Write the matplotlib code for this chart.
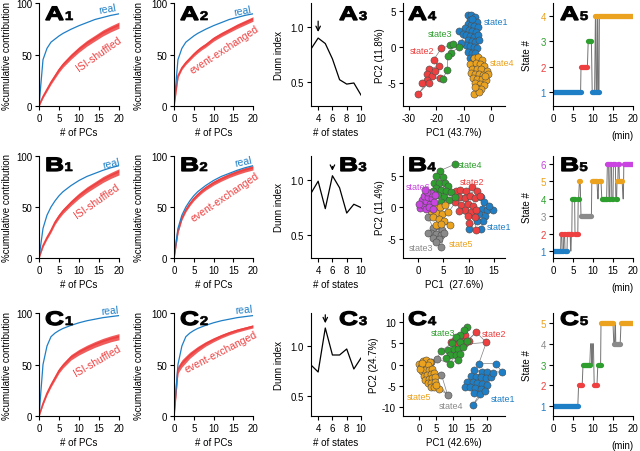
import numpy as np
import matplotlib
matplotlib.use('Agg')
import matplotlib.pyplot as plt
from matplotlib.textpath import TextPath
from matplotlib.patches import PathPatch
from matplotlib.font_manager import FontProperties
from matplotlib.transforms import Affine2D

plt.rcParams['font.family'] = ['Liberation Sans', 'DejaVu Sans']
plt.rcParams['font.size'] = 7
plt.rcParams['axes.unicode_minus'] = False

W, H = 640, 452

blue = '#1f7fc6'
red = '#ee4040'
green = '#2e9f2e'
orange = '#eba21e'
gray = '#8a8a8a'
magenta = '#c944e0'

# ---- cumulative contribution curves ----
pcs = [0, 1, 2, 3, 4, 5, 6, 7, 8, 10, 12, 14, 16, 18, 20]

real_A = [0, 45, 56, 62, 65, 68, 70.5, 72.5, 74.5, 78, 81, 84, 86, 88, 89.5]
isi_A = [0, 9, 16, 23, 29, 35, 40, 44, 48, 55, 61, 66, 71, 75, 78.5]
isi_A_sd = [0, 1.2, 1.6, 1.9, 2.1, 2.3, 2.4, 2.5, 2.6, 2.7, 2.8, 2.8, 2.9, 2.9, 3.0]
event_A = [0, 29, 37, 42, 46, 50, 53.5, 56.5, 59, 65, 69.5, 73.5, 77.5, 81, 84.5]
event_A_sd = [0, 1.5, 1.6, 1.7, 1.8, 1.9, 2.0, 2.0, 2.0, 2.1, 2.1, 2.1, 2.2, 2.2, 2.2]

real_B = [0, 29, 42, 50, 56, 61, 65, 68, 71, 76, 80, 83, 86, 88.5, 90.5]
isi_B = [0, 12, 20, 27, 35, 41, 46, 50, 54, 61, 67, 72, 77, 81, 84.5]
isi_B_sd = [0, 1.2, 1.6, 1.9, 2.1, 2.3, 2.4, 2.5, 2.6, 2.7, 2.8, 2.8, 2.9, 2.9, 3.0]
event_B = [0, 26, 39, 47, 53, 58, 62, 65.5, 68.5, 73.5, 77.5, 81, 84, 86.5, 88.5]
event_B_sd = [0, 1.5, 1.6, 1.7, 1.8, 1.9, 2.0, 2.0, 2.0, 2.1, 2.1, 2.1, 2.2, 2.2, 2.2]

real_C = [0, 50, 68, 77, 80.5, 83, 85, 86.5, 88, 90.5, 92.5, 94, 95.5, 96.5, 97.5]
isi_C = [0, 12, 22, 30, 37, 44, 49, 53, 57, 62, 66, 69.5, 72.5, 75, 77]
isi_C_sd = [0, 1.2, 1.6, 1.9, 2.1, 2.3, 2.4, 2.5, 2.6, 2.7, 2.8, 2.8, 2.9, 2.9, 3.0]
event_C = [0, 45, 51, 55, 59, 62, 65, 67.5, 70, 74, 77.5, 80.5, 83, 85, 87]
event_C_sd = [0, 3.5, 3.5, 3.3, 3.0, 2.8, 2.6, 2.4, 2.2, 2.0, 1.8, 1.7, 1.6, 1.5, 1.5]

# ---- Dunn index ----
n_states = [3, 4, 5, 6, 7, 8, 9, 10]
dunn_A = [0.80, 0.90, 0.85, 0.71, 0.52, 0.48, 0.49, 0.38]
dunn_B = [0.88, 0.99, 0.74, 1.04, 0.93, 0.70, 0.78, 0.75]
dunn_C = [0.81, 0.74, 1.18, 0.91, 0.91, 0.97, 0.77, 0.88]
best_A, best_B, best_C = 4, 6, 5

# ---- PCA scatter (PC1, PC2) ----
A_state1 = [(-8.3, 4.4), (-7.2, 4.5), (-6.0, 4.2), (-7.8, 3.8), (-6.6, 3.6), (-5.2, 3.5), (-8.6, 3.2),
            (-7.3, 3.0), (-6.1, 2.9), (-4.6, 2.8), (-9.6, 2.6), (-8.2, 2.4), (-6.8, 2.2), (-5.5, 2.1),
            (-11.6, 2.2), (-10.4, 1.8), (-9.0, 1.7), (-7.6, 1.5), (-6.2, 1.4), (-4.9, 1.6), (-8.5, 0.9),
            (-7.1, 0.8), (-5.8, 0.7), (-4.4, 0.9), (-9.2, 0.2), (-7.8, 0.1), (-6.4, 0.0), (-5.0, -0.1),
            (-8.6, -0.7), (-7.1, -0.8), (-5.7, -0.9), (-7.8, -1.5), (-6.5, -1.7), (-10.9, 0.6), (-6.9, 3.9)]
A_state2 = [(-18.2, -0.2), (-21.0, -1.8), (-19.2, -2.7), (-22.6, -3.0), (-23.6, -3.7), (-21.6, -4.1),
            (-18.8, -4.3), (-23.4, -4.6), (-25.2, -5.0), (-22.8, -5.0), (-26.8, -6.6), (-20.4, -3.4)]
A_state3 = [(-15.0, 0.2), (-13.8, 0.4), (-11.6, 0.0), (-14.6, -0.8), (-15.8, -1.2), (-16.0, -3.2), (-17.6, -4.4)]
A_state4 = [(-6.3, -1.5), (-4.6, -1.4), (-3.2, -1.8), (-7.6, -2.4), (-5.6, -2.2), (-4.0, -2.4), (-2.4, -2.6),
            (-6.8, -3.0), (-5.2, -3.0), (-3.6, -3.1), (-1.6, -3.3), (-7.4, -3.6), (-5.9, -3.7), (-4.4, -3.8),
            (-2.8, -3.9), (-1.1, -3.8), (-6.6, -4.3), (-5.0, -4.4), (-3.4, -4.5), (-2.0, -4.6), (-5.8, -5.0),
            (-4.2, -5.1), (-2.7, -5.3), (-5.0, -5.7), (-3.5, -5.9), (-6.4, -6.6), (-4.5, -6.2), (-6.0, -5.6),
            (-2.2, -4.1)]
A_links = [[(-11.6, 0.0), (-9.2, 0.2)], [(-15.0, 0.2), (-18.2, -0.2)], [(-7.8, -1.5), (-6.3, -1.5)],
           [(-17.6, -4.4), (-18.8, -4.3)]]

B_state1 = [(12.4, 1.6), (13.0, 0.8), (12.6, -0.2), (13.6, -0.4), (14.8, -0.5), (12.0, -1.0), (13.2, -1.4),
            (11.0, -1.2), (12.8, -2.1), (11.6, -2.2), (10.0, -3.4), (12.4, -3.5), (14.0, 0.2)]
B_state2 = [(7.6, 2.5), (8.4, 2.8), (9.4, 2.6), (10.6, 3.2), (11.6, 2.6), (8.2, 1.6), (9.2, 1.4), (10.2, 1.8),
            (11.2, 1.4), (12.2, 1.8), (7.4, 0.8), (8.6, 0.4), (9.8, 0.6), (10.8, 0.2), (9.2, -0.4),
            (10.4, -0.8), (11.4, -0.4), (8.2, -0.6), (9.8, -1.4), (11.2, -1.6), (11.4, -3.6), (10.0, -2.4)]
B_state3 = [(2.0, -1.6), (3.0, -3.2), (4.0, -3.0), (4.8, -3.6), (2.6, -4.0), (3.6, -4.2), (4.6, -4.4),
            (2.0, -4.1), (3.0, -4.8), (4.2, -5.0), (3.6, -5.4), (4.6, -6.3), (5.2, -4.0)]
B_state4 = [(7.3, 6.8), (4.4, 5.8), (3.6, 4.9), (5.0, 4.8), (3.2, 3.9), (4.2, 3.8), (5.3, 3.8), (6.0, 3.3),
            (3.6, 3.0), (4.6, 2.8), (5.6, 2.6), (6.6, 2.4), (4.0, 2.0), (5.2, 1.6), (6.2, 1.2), (4.6, 0.8),
            (3.0, 2.6), (7.4, 1.6)]
B_state5 = [(2.0, 1.2), (3.4, 0.2), (4.4, 0.0), (5.4, 0.4), (2.6, -0.6), (3.6, -0.9), (4.8, -1.0), (6.0, -0.8),
            (3.0, -1.6), (4.2, -1.9), (5.2, -2.2), (3.6, -2.8), (4.6, -2.6), (6.3, -2.8), (1.8, 0.0)]
B_state6 = [(0.4, -0.1), (1.0, 0.4), (1.5, -0.2), (0.8, 1.1), (1.6, 1.0), (2.3, 0.6), (1.2, 1.8), (2.0, 1.7),
            (2.8, 1.4), (2.6, 2.3), (1.8, 2.4), (3.2, 0.8), (2.1, 0.0), (3.4, 2.0), (0.3, 0.6), (2.9, -0.3),
            (1.4, 2.8)]
B_links = [[(6.2, 1.2), (8.2, 1.6)], [(6.6, 2.4), (7.6, 2.5)], [(4.6, 0.8), (4.4, 0.0)], [(3.2, 0.8), (3.4, 0.2)],
           [(3.0, -1.6), (2.0, -1.6)], [(11.4, -0.4), (12.0, -1.0)], [(7.4, 0.8), (6.0, -0.8)]]

C_state1 = [(17.6, 0.2), (22.6, 0.2), (24.4, -1.8), (16.2, -1.4), (18.6, -1.8), (20.0, -1.8), (15.4, -2.8),
            (16.8, -3.0), (18.2, -3.0), (19.6, -3.2), (21.2, -3.0), (14.2, -4.2), (15.8, -4.2), (17.2, -4.4),
            (18.6, -4.6), (20.0, -4.8), (13.4, -5.4), (15.0, -5.4), (16.6, -5.6), (18.2, -5.8), (16.2, -6.8),
            (17.8, -7.0), (15.8, -9.6), (19.4, -6.2), (21.8, -2.0)]
C_state2 = [(9.4, 5.2), (10.6, 5.8), (11.6, 6.2), (12.6, 6.4), (13.6, 7.0), (12.2, 4.8), (14.6, 5.6),
            (13.6, 5.0), (16.8, 7.6), (19.8, 5.2), (11.2, 4.6)]
C_state3 = [(14.2, 8.8), (13.2, 8.0), (12.2, 7.0), (10.8, 6.4), (12.0, 5.2), (9.6, 5.0), (6.6, 3.2), (8.6, 3.4),
            (10.2, 3.6), (11.6, 3.6), (13.0, 4.0), (9.2, 2.2), (10.8, 2.2), (12.2, 2.4), (11.4, 1.0), (9.0, 0.2),
            (14.2, 5.6), (8.0, 1.6)]
C_state4 = [(3.6, 0.5), (5.2, 1.4), (3.0, -1.2), (6.6, -2.4), (8.4, -7.1), (2.2, -1.6)]
C_state5 = [(0.0, 0.2), (1.2, 0.9), (2.2, 1.0), (3.2, 0.6), (0.6, -0.6), (1.6, -0.4), (2.6, -0.2), (0.8, -1.6),
            (1.8, -1.4), (2.8, -1.2), (3.8, -1.0), (1.4, -2.6), (2.4, -2.4), (3.4, -2.2), (4.4, -2.0),
            (1.8, -3.6), (2.8, -3.4), (3.8, -3.2), (4.8, -3.0), (2.6, -4.4), (3.6, -4.4), (4.6, -4.2),
            (3.4, -5.2), (4.4, -5.4), (6.0, -5.8), (5.0, -4.8), (0.4, -1.0), (1.0, 0.4)]
C_links = [[(5.2, 1.4), (6.6, 3.2)], [(19.8, 5.2), (17.6, 0.2)], [(16.8, 7.6), (14.2, 5.6)],
           [(8.4, -7.1), (6.0, -5.8)], [(9.0, 0.2), (5.2, 1.4)]]

# ---- state sequences: (state, start min, end min) ----
runs_A = [(1, 0, 6.9), (2, 7.0, 8.6), (3, 8.8, 9.6), (1, 9.8, 10.4), (4, 10.6, 10.7), (1, 10.8, 11.0),
          (4, 11.1, 11.2), (1, 11.3, 11.5), (4, 11.6, 20.0)]
runs_B = [(1, 0, 1.9), (2, 2.0, 2.2), (1, 2.3, 2.6), (2, 2.7, 2.9), (1, 3.0, 3.5), (2, 3.6, 4.3), (1, 4.4, 4.5),
          (2, 4.6, 4.7), (4, 4.8, 5.4), (2, 5.5, 6.2), (4, 6.3, 6.4), (5, 6.6, 6.8), (3, 7.0, 9.6),
          (5, 9.7, 11.0), (4, 11.2, 11.3), (5, 11.4, 12.0), (4, 12.2, 13.4), (6, 13.6, 13.9), (4, 14.0, 14.2),
          (6, 14.3, 14.6), (4, 14.7, 15.0), (6, 15.1, 15.6), (4, 15.7, 15.9), (5, 16.0, 16.2), (6, 16.3, 16.5),
          (5, 16.6, 17.3), (4, 17.5, 17.6), (6, 17.7, 20.0)]
runs_C = [(1, 0, 6.2), (2, 6.4, 7.3), (3, 7.5, 9.2), (4, 9.4, 9.6), (3, 9.7, 9.8), (4, 9.9, 10.1),
          (2, 10.3, 11.0), (3, 11.2, 11.9), (5, 12.0, 15.0), (4, 15.2, 15.4), (5, 15.5, 15.6),
          (4, 15.7, 16.8), (5, 17.0, 20.0)]

colors_A = [blue, red, green, orange]
colors_B = [blue, red, gray, green, orange, magenta]
colors_C = [blue, red, green, gray, orange]

fig = plt.figure(figsize=(W / 100, H / 100), dpi=100)


def add_ax(l, t, r, b):
    return fig.add_axes([l / W, 1 - b / H, (r - l) / W, (b - t) / H])


def style(ax):
    for s in ['top', 'right']:
        ax.spines[s].set_visible(False)
    for s in ['left', 'bottom']:
        ax.spines[s].set_linewidth(0.8)
    ax.tick_params(direction='out', length=3, width=0.8, labelsize=7, pad=2)


def panel_label(x, base, letter, digit):
    fp = FontProperties(family='Liberation Sans', weight='bold')
    p1 = TextPath((0, 0), letter, size=19.5, prop=fp)
    tr1 = Affine2D().scale(1.35 / 100, 1 / 100).translate(x / 100, (H - base) / 100) + fig.dpi_scale_trans
    fig.add_artist(PathPatch(p1, transform=tr1, fc='black', ec='black', lw=0.9))
    w = p1.get_extents().x1 * 1.35
    p2 = TextPath((0, 0), digit, size=12.6, prop=fp)
    tr2 = Affine2D().scale(1.2 / 100, 1 / 100).translate((x + w + 1.5) / 100, (H - base) / 100) + fig.dpi_scale_trans
    fig.add_artist(PathPatch(p2, transform=tr2, fc='black', ec='black', lw=0.5))


def cum_panel(ax, real, mean, sd, shuffle_label, txt):
    m = np.array(mean)
    s = np.array(sd)
    ax.fill_between(pcs, m - s, m + s, color=red, alpha=0.85, lw=0)
    ax.plot(pcs, m, color=red, lw=1.2)
    ax.plot(pcs, real, color=blue, lw=0.9)
    ax.set_xlim(0, 20)
    ax.set_ylim(0, 100)
    ax.set_xticks([0, 5, 10, 15, 20])
    ax.set_yticks([0, 50, 100])
    ax.set_xlabel('# of PCs', labelpad=3)
    style(ax)
    rx, ry, rrot, sx, sy, srot = txt
    ax.text(rx, ry, 'real', color=blue, rotation=rrot, ha='center', va='center', fontsize=7.5)
    ax.text(sx, sy, shuffle_label, color=red, rotation=srot, ha='center', va='center', fontsize=7.5)


def dunn_panel(ax, vals, best, ylim, arrow):
    ax.plot(n_states, vals, color='black', lw=0.9)
    ax.annotate('', xy=(best, arrow[1]), xytext=(best, arrow[0]),
                arrowprops=dict(arrowstyle='->', lw=0.9, color='black', mutation_scale=8))
    ax.set_xlim(3, 10)
    ax.set_ylim(*ylim)
    ax.set_xticks([4, 6, 8, 10])
    ax.set_yticks([0.5, 1.0])
    ax.set_yticklabels(['0.5', '1.0'])
    ax.set_ylabel('Dunn index', labelpad=5)
    ax.set_xlabel('# of states', labelpad=3)
    style(ax)


def scatter_panel(ax, clusters, colors, links, labels, xlim, ylim, xticks, yticks, xlabel, ylabel):
    for a, b in links:
        ax.plot([a[0], b[0]], [a[1], b[1]], color='0.5', lw=0.5, zorder=1)
    for pts, c in zip(clusters, colors):
        p = np.array(pts)
        ax.plot(p[:, 0], p[:, 1], color='0.5', lw=0.5, zorder=1)
    for pts, c in zip(clusters, colors):
        p = np.array(pts)
        ax.scatter(p[:, 0], p[:, 1], s=26, c=c, edgecolors='0.3', linewidths=0.4, zorder=2)
    for (lx, ly, t), c in zip(labels, colors):
        ax.text(lx, ly, t, color=c, fontsize=6.5, ha='left', va='center', zorder=3)
    ax.set_xlim(*xlim)
    ax.set_ylim(*ylim)
    ax.set_xticks(xticks)
    ax.set_yticks(yticks)
    ax.set_xlabel(xlabel, labelpad=3)
    ax.set_ylabel(ylabel, labelpad=2)
    style(ax)


def state_panel(ax, runs, colors, ylim):
    xs, ys = [], []
    for s, t0, t1 in runs:
        xs += [t0, t1]
        ys += [s, s]
    ax.plot(xs, ys, color='0.45', lw=0.7, zorder=1)
    for s, t0, t1 in runs:
        ax.plot([t0, t1], [s, s], color=colors[s - 1], lw=3.8, solid_capstyle='round', zorder=2)
    n = len(colors)
    ax.set_xlim(0, 20)
    ax.set_ylim(*ylim)
    ax.set_xticks([0, 5, 10, 15, 20])
    ax.set_yticks(range(1, n + 1))
    style(ax)
    for lab, c in zip(ax.get_yticklabels(), colors):
        lab.set_color(c)
    ax.set_ylabel('State #', labelpad=6)
    ax.set_xlabel('(min)', loc='right', labelpad=5)


rows_top = [4, 157, 314]
rows_bot = [107, 259, 417]
label_base = [21, 172, 326]
label_x = [45, 180, 339, 408, 560]

real_all = [real_A, real_B, real_C]
isi_all = [(isi_A, isi_A_sd), (isi_B, isi_B_sd), (isi_C, isi_C_sd)]
event_all = [(event_A, event_A_sd), (event_B, event_B_sd), (event_C, event_C_sd)]
isi_txt = [(17, 94.5, 10, 15, 50.5, 35), (18, 93, 13, 14.5, 56, 35), (17.6, 103, 5, 14.5, 54, 30)]
event_txt = [(17.2, 93, 10, 12.7, 55, 33), (17.6, 95, 12, 12.9, 60, 34), (17.6, 103.5, 5, 11.9, 63, 27)]
dunn_all = [dunn_A, dunn_B, dunn_C]
best_all = [best_A, best_B, best_C]
dunn_ylim = [(0.28, 1.22), (0.29, 1.22), (0.3, 1.33)]
arrows = [(1.08, 0.93), (1.15, 1.06), (1.34, 1.20)]

for i, row in enumerate('ABC'):
    t, b = rows_top[i], rows_bot[i]
    ax1 = add_ax(39, t, 119, b)
    cum_panel(ax1, real_all[i], isi_all[i][0], isi_all[i][1], 'ISI-shuffled', isi_txt[i])
    ax1.set_ylabel('%cumulative contribution', labelpad=3)
    ax2 = add_ax(174, t, 253, b)
    cum_panel(ax2, real_all[i], event_all[i][0], event_all[i][1], 'event-exchanged', event_txt[i])
    ax2.set_ylabel('%cumulative contribution', labelpad=5)
    ax3 = add_ax(311, t, 361, b)
    dunn_panel(ax3, dunn_all[i], best_all[i], dunn_ylim[i], arrows[i])

ax = add_ax(403, rows_top[0], 505, rows_bot[0])
scatter_panel(ax, [A_state1, A_state2, A_state3, A_state4], colors_A, A_links,
              [(-2.7, 3.5, 'state1'), (-29.7, -0.45, 'state2'), (-23, 1.8, 'state3'), (-0.6, -2.1, 'state4')],
              (-32.2, 5.1), (-8.2, 6.1), [-30, -20, -10, 0], [-5, 0, 5], 'PC1 (43.7%)', 'PC2 (11.8%)')
ax = add_ax(403, rows_top[1], 505, rows_bot[1])
scatter_panel(ax, [B_state1, B_state2, B_state3, B_state4, B_state5, B_state6], colors_B, B_links,
              [(13.5, -3.1, 'state1'), (8.2, 4.1, 'state2'), (-1.8, -6.4, 'state3'), (7.8, 6.7, 'state4'),
               (6.0, -5.7, 'state5'), (-2.5, 3.3, 'state6')],
              (-2.96, 17.2), (-8.0, 8.1), [0, 5, 10, 15], [-5, 0, 5], 'PC1  (27.6%)', 'PC2 (11.4%)')
ax = add_ax(403, rows_top[2], 505, rows_bot[2])
scatter_panel(ax, [C_state1, C_state2, C_state3, C_state4, C_state5], colors_C, C_links,
              [(21, -7.9, 'state1'), (18.6, 7.2, 'state2'), (3.6, 7.6, 'state3'), (5.9, -9.6, 'state4'),
               (-3.7, -7.5, 'state5')],
              (-4.7, 25.3), (-12.1, 12.1), [0, 5, 10, 15, 20], [-10, -5, 0, 5, 10], 'PC1 (42.6%)', 'PC2 (24.7%)')

state_panel(add_ax(553, rows_top[0], 633, rows_bot[0]), runs_A, colors_A, (0.45, 4.51))
state_panel(add_ax(553, rows_top[1], 633, rows_bot[1]), runs_B, colors_B, (0.6, 6.46))
state_panel(add_ax(553, rows_top[2], 633, rows_bot[2]), runs_C, colors_C, (0.52, 5.48))

for i, row in enumerate('ABC'):
    for j in range(5):
        panel_label(label_x[j], label_base[i], row, str(j + 1))

fig.savefig('out.png', dpi=100)
